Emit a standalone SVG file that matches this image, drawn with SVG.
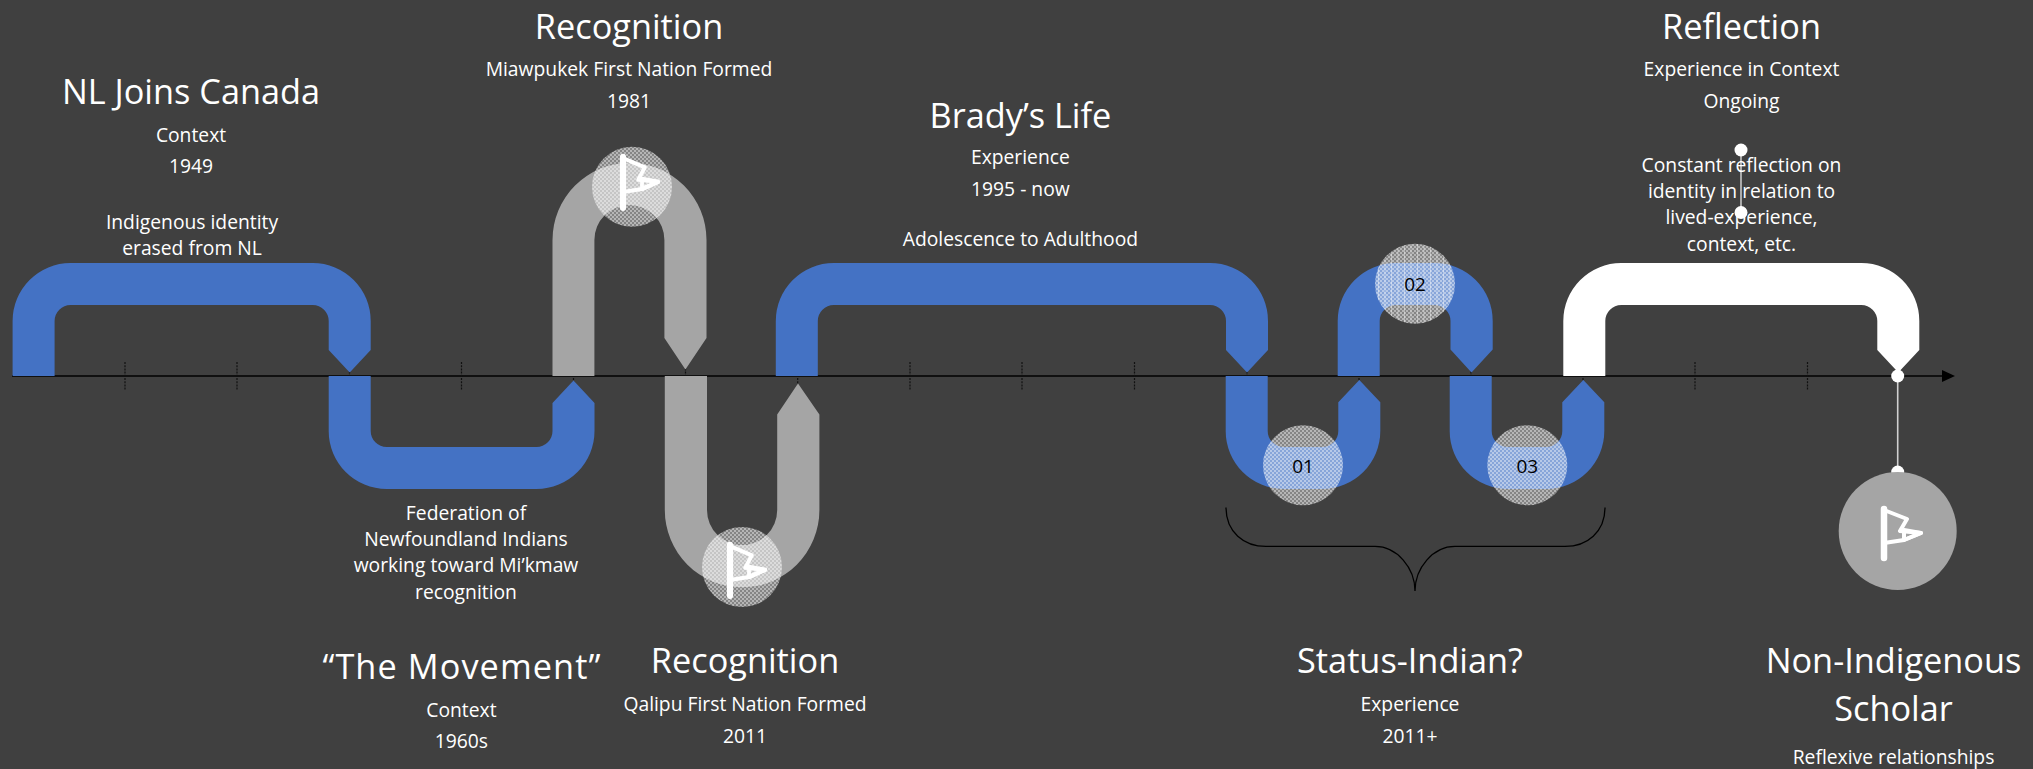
<svg xmlns="http://www.w3.org/2000/svg" width="2033" height="769" viewBox="0 0 2033 769">
<style>
text{font-family:"Open Sans","Noto Sans","Liberation Sans",sans-serif;text-anchor:middle;fill:#fff}
.t{font-size:34.3px}
.s{font-size:19.3px}
.n{font-size:19px;fill:#000}
.blue{fill:#4472c4}
.grey{fill:#a5a5a5}
.white{fill:#fff}
.tick{stroke:#111;stroke-width:1.2;stroke-dasharray:2 1.2;fill:none}
.flag{fill:none;stroke:#fff;stroke-width:4;stroke-linejoin:round;stroke-linecap:round}
.pole{fill:none;stroke:#fff;stroke-width:6.5;stroke-linecap:round}
</style>
<defs>
<pattern id="dither" width="4" height="4" patternUnits="userSpaceOnUse">
<rect width="4" height="4" fill="#fff" fill-opacity=".36"/>
<rect width="2" height="2" fill="#fff" fill-opacity=".4"/>
<rect x="2" y="2" width="2" height="2" fill="#fff" fill-opacity=".4"/>
</pattern>
<pattern id="stripes" width="6.5" height="4" patternUnits="userSpaceOnUse">
<rect width="1" height="4" fill="#fff" fill-opacity=".4"/>
</pattern>
<g id="flagIcon">
<path class="pole" d="M0 2V51"/>
<path class="flag" d="M0 3L23 12L16 24L37 26L20 33L0 36"/>
<path class="flag" d="M20 23L37 26L20 33Z"/>
</g>
</defs>
<rect width="2033" height="769" fill="#404040"/>
<g id="connectors">
<path d="M12 376H1944" stroke="#000" stroke-width="1.6" fill="none"/>
<path d="M1942 370L1955 376L1942 382Z" fill="#000"/>
<path class="tick" d="M125 362V390M237 362V390M349.5 362V390M461.5 362V390M573.5 362V390M685.5 362V390M797.7 362V390M910 362V390M1022 362V390M1134.5 362V390M1247 362V390M1359 362V390M1471 362V390M1583 362V390M1695 362V390M1807.5 362V390"/>
<path d="M1897.7 376V472" stroke="#d0d0d0" stroke-width="1.6" fill="none"/>
<path d="M1741 150V212" stroke="#d9d9d9" stroke-width="1.4" fill="none"/>
<path id="brace" d="M1226 507.6C1226 532 1244 546.4 1266 546.4H1375C1397 546.4 1415 568 1415 591C1415 568 1433 546.4 1455 546.4H1565C1587 546.4 1605 532 1605 507.6" fill="none" stroke="#000" stroke-width="1.3"/>
</g>
<g id="pipe-nl-joins"><path class="blue" d="M12.6 376V321A58 58 0 0 1 70.6 263H312.7A58 58 0 0 1 370.7 321V350L349.7 372.5L328.7 350V321A16 16 0 0 0 312.7 305H70.6A16 16 0 0 0 54.6 321V376Z"/></g>
<g id="pipe-movement"><path class="blue" d="M328.7 376V431A58 58 0 0 0 386.7 489H536.5A58 58 0 0 0 594.5 431V403L573.5 380.5L552.5 403V431A16 16 0 0 1 536.5 447H386.7A16 16 0 0 1 370.7 431V376Z"/></g>
<g id="pipe-miawpukek"><path class="grey" d="M552.5 376V240A77 77 0 0 1 706.5 240V338L685.4 369.5L664.4 338V240A35 35 0 0 0 594.4 240V376Z"/></g>
<g id="pipe-qalipu"><path class="grey" d="M664.8 376V510A77 77 0 0 0 819.4 510V414.5L798 383.4L777.2 414.5V510A35 35 0 0 1 707 510V376Z"/></g>
<g id="pipe-brady"><path class="blue" d="M775.8 376V321A58 58 0 0 1 833.8 263H1210A58 58 0 0 1 1268 321V350L1247 372.5L1226 350V321A16 16 0 0 0 1210 305H833.8A16 16 0 0 0 817.8 321V376Z"/></g>
<g id="pipe-01"><path class="blue" d="M1225.7 376V431A58 58 0 0 0 1283.7 489H1322.3A58 58 0 0 0 1380.3 431V402.3L1359.3 380L1338.3 402.3V431A16 16 0 0 1 1322.3 447H1283.7A16 16 0 0 1 1267.7 431V376Z"/></g>
<g id="pipe-02"><path class="blue" d="M1337.7 376V321A58 58 0 0 1 1395.7 263H1434.7A58 58 0 0 1 1492.7 321V349.5L1471.5 372.5L1450.5 349.5V321A16 16 0 0 0 1434.5 305H1395.7A16 16 0 0 0 1379.7 321V376Z"/></g>
<g id="pipe-03"><path class="blue" d="M1449.7 376V431A58 58 0 0 0 1507.7 489H1546.3A58 58 0 0 0 1604.3 431V402.3L1583.3 380L1562.3 402.3V431A16 16 0 0 1 1546.3 447H1507.7A16 16 0 0 1 1491.7 431V376Z"/></g>
<g id="pipe-reflection"><path class="white" d="M1563.3 376V321A58 58 0 0 1 1621.3 263H1861.3A58 58 0 0 1 1919.3 321V350L1898.3 372.5L1877.3 350V321A16 16 0 0 0 1861.3 305H1621.3A16 16 0 0 0 1605.3 321V376Z"/></g>
<g id="marker-miawpukek"><circle cx="632" cy="186.7" r="40" fill="url(#dither)"/><use href="#flagIcon" transform="translate(623 155) scale(.95 1.03)"/></g>
<g id="marker-qalipu"><circle cx="742" cy="567" r="40" fill="url(#dither)"/><use href="#flagIcon" transform="translate(730 543) scale(.95 1.03)"/></g>
<g id="marker-01"><circle cx="1303" cy="465.3" r="40" fill="url(#dither)"/><text class="n" x="1303" y="472.5">01</text></g>
<g id="marker-02"><circle cx="1415" cy="283.7" r="40" fill="url(#dither)"/><circle cx="1415" cy="283.7" r="40" fill="url(#stripes)"/><text class="n" x="1415" y="290.5">02</text></g>
<g id="marker-03"><circle cx="1527.3" cy="465.3" r="40" fill="url(#dither)"/><text class="n" x="1527.3" y="472.5">03</text></g>
<g id="dot-axis"><circle cx="1897.7" cy="376" r="6.5" fill="#fff"/></g>
<g id="dot-scholar"><circle cx="1897.7" cy="472" r="6.5" fill="#fff"/></g>
<g id="dot-reflect-top"><circle cx="1741" cy="150" r="6.5" fill="#fff"/></g>
<g id="dot-reflect-bottom"><circle cx="1741" cy="212.5" r="6.5" fill="#fff"/></g>
<g id="marker-scholar"><circle cx="1897.7" cy="531" r="59" fill="#a5a5a5"/><use href="#flagIcon" transform="translate(1884 507)"/></g>
<g id="label-nl">
<text class="t" x="191" y="103.5">NL Joins Canada</text>
<text class="s" x="191" y="141.7">Context</text>
<text class="s" x="191" y="173">1949</text>
<text class="s" x="192" y="228.5">Indigenous identity</text>
<text class="s" x="192" y="254.5">erased from NL</text>
</g>
<g id="label-recognition-top">
<text class="t" x="629" y="39">Recognition</text>
<text class="s" x="629" y="76">Miawpukek First Nation Formed</text>
<text class="s" x="629" y="108">1981</text>
</g>
<g id="label-movement">
<text class="s" x="466" y="520">Federation of</text>
<text class="s" x="466" y="546">Newfoundland Indians</text>
<text class="s" x="466" y="572">working toward Mi’kmaw</text>
<text class="s" x="466" y="599">recognition</text>
<text class="t" x="461.4" y="679" textLength="278" lengthAdjust="spacing">“The Movement”</text>
<text class="s" x="461.4" y="716.5">Context</text>
<text class="s" x="461.4" y="748">1960s</text>
</g>
<g id="label-recognition-bottom">
<text class="t" x="745" y="673">Recognition</text>
<text class="s" x="745" y="710.6">Qalipu First Nation Formed</text>
<text class="s" x="745" y="742.5">2011</text>
</g>
<g id="label-brady">
<text class="t" x="1020.4" y="127.5">Brady’s Life</text>
<text class="s" x="1020.4" y="164">Experience</text>
<text class="s" x="1020.4" y="195.7">1995 - now</text>
<text class="s" x="1020.4" y="246">Adolescence to Adulthood</text>
</g>
<g id="label-status">
<text class="t" x="1410" y="673">Status-Indian?</text>
<text class="s" x="1410" y="710.6">Experience</text>
<text class="s" x="1410" y="742.5">2011+</text>
</g>
<g id="label-reflection">
<text class="t" x="1741.5" y="39">Reflection</text>
<text class="s" x="1741.5" y="76">Experience in Context</text>
<text class="s" x="1741.5" y="108">Ongoing</text>
<text class="s" x="1741.5" y="171.6">Constant reflection on</text>
<text class="s" x="1741.5" y="197.6">identity in relation to</text>
<text class="s" x="1741.5" y="224">lived-experience,</text>
<text class="s" x="1741.5" y="250.6">context, etc.</text>
</g>
<g id="label-scholar">
<text class="t" x="1893.5" y="673">Non-Indigenous</text>
<text class="t" x="1893.5" y="721">Scholar</text>
<text class="s" x="1893.5" y="763.6">Reflexive relationships</text>
</g>
</svg>
